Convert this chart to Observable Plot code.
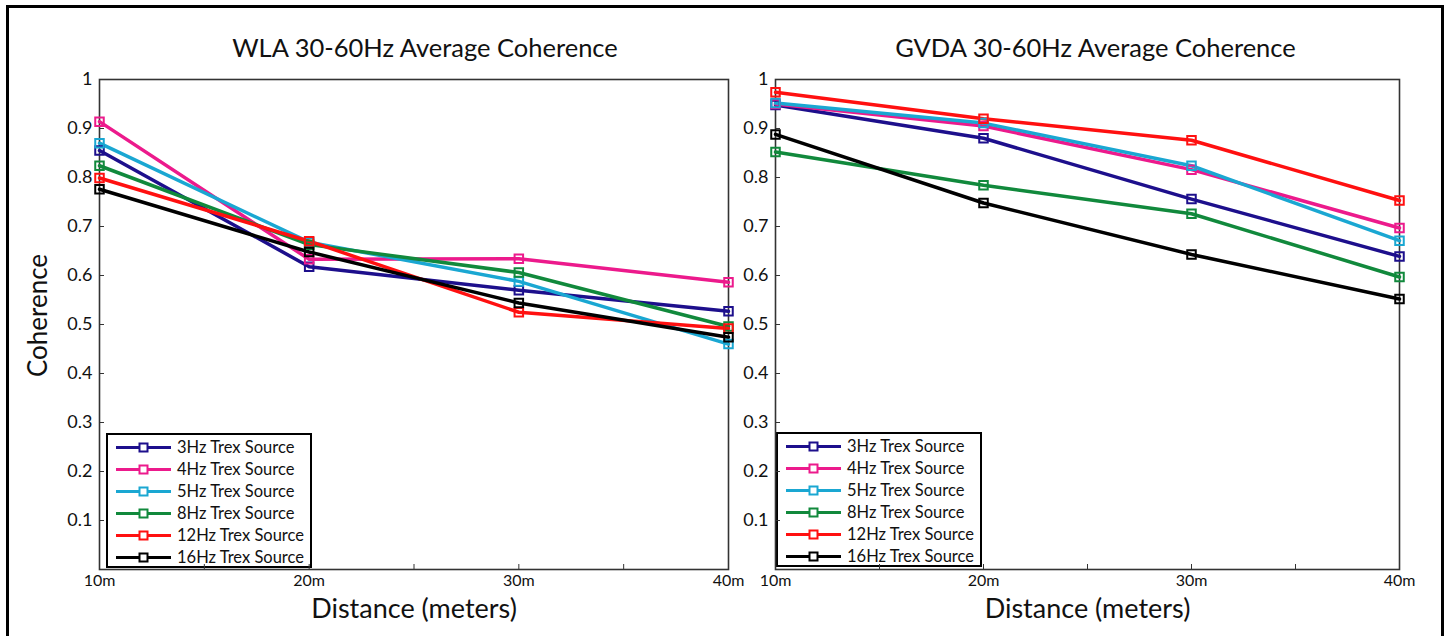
<!DOCTYPE html>
<html><head><meta charset="utf-8">
<script src="https://cdn.jsdelivr.net/npm/d3@7"></script>
<script src="https://cdn.jsdelivr.net/npm/@observablehq/plot@0.6"></script>
<style>
html,body{margin:0;padding:0;background:#fff;overflow:hidden}
#wrap{position:relative;width:1448px;height:636px;font-family:Lato,"Open Sans",sans-serif;overflow:hidden}
#border{position:absolute;left:6px;top:5px;width:1438px;height:700px;border:3px solid #000;box-sizing:border-box}
.panel{position:absolute;top:0}
.legend{position:absolute;background:#fff;border:2px solid #000;box-sizing:border-box}
</style></head>
<body><div id="wrap"><div id="border"></div></div>
<script>
const distances = [10, 20, 30, 40];
const xTickLabels = ["10m", "20m", "30m", "40m"];
const minorTicks = [10, 15, 20, 25, 30, 35, 40];
const yTicks = [0.1, 0.2, 0.3, 0.4, 0.5, 0.6, 0.7, 0.8, 0.9, 1];
const yTickLabels = ["0.1", "0.2", "0.3", "0.4", "0.5", "0.6", "0.7", "0.8", "0.9", "1"];
const sources = ["3Hz Trex Source", "4Hz Trex Source", "5Hz Trex Source", "8Hz Trex Source", "12Hz Trex Source", "16Hz Trex Source"];
const colors = ["#1d0f8c", "#ec1a8c", "#1aa7d2", "#11893c", "#ff1010", "#000000"];

const wla3  = [0.855, 0.618, 0.570, 0.527];
const wla4  = [0.914, 0.633, 0.634, 0.586];
const wla5  = [0.870, 0.668, 0.588, 0.460];
const wla8  = [0.824, 0.663, 0.606, 0.496];
const wla12 = [0.799, 0.670, 0.525, 0.492];
const wla16 = [0.776, 0.648, 0.544, 0.474];

const gvda3  = [0.948, 0.880, 0.756, 0.639];
const gvda4  = [0.950, 0.905, 0.816, 0.697];
const gvda5  = [0.952, 0.911, 0.824, 0.671];
const gvda8  = [0.852, 0.784, 0.726, 0.597];
const gvda12 = [0.974, 0.920, 0.876, 0.753];
const gvda16 = [0.888, 0.748, 0.643, 0.552];

const wlaValues = [wla3, wla4, wla5, wla8, wla12, wla16];
const gvdaValues = [gvda3, gvda4, gvda5, gvda8, gvda12, gvda16];

function table(vals) {
  return sources.flatMap((s, i) => distances.map((d, j) => ({source: s, distance: d, value: vals[i][j]})));
}

const H = 636, MT = 79, MB = 67;
const FONT = "Lato, 'Open Sans', sans-serif";

function panel({title, values, left, width, marginLeft, marginRight, yLabel, titleDx}) {
  const data = table(values);
  const innerW = width - marginLeft - marginRight;
  const innerH = H - MT - MB;
  const marks = [
    Plot.tickX(minorTicks, {x: d => d, insetTop: innerH - 5, stroke: "#333", strokeWidth: 1}),
    Plot.tickY(yTicks, {y: d => d, insetRight: innerW - 5, stroke: "#333", strokeWidth: 1}),
    Plot.axisX(distances, {tickSize: 0, tickPadding: 5, tickFormat: d => xTickLabels[distances.indexOf(d)], fontSize: 16, label: null, fill: "#111"}),
    Plot.axisY(yTicks, {tickSize: 0, tickPadding: 7, tickFormat: d => yTickLabels[yTicks.indexOf(d)], fontSize: 18, label: null, fill: "#111"}),
    Plot.frame({stroke: "#333", strokeWidth: 1.6}),
    Plot.line(data, {x: "distance", y: "value", z: "source", stroke: "source", strokeWidth: 3.5}),
    Plot.dot(data, {x: "distance", y: "value", stroke: "source", symbol: "square", r: 4.8, strokeWidth: 2, fill: "none"}),
    Plot.text([title], {text: d => d, frameAnchor: "top", dy: -41, dx: titleDx, fontSize: 25.5, fill: "#111"}),
    Plot.text(["Distance (meters)"], {text: d => d, frameAnchor: "bottom", lineAnchor: "middle", dy: 40, fontSize: 27, fill: "#111"})
  ];
  if (yLabel) marks.push(Plot.text([yLabel], {text: d => d, frameAnchor: "left", textAnchor: "middle", dx: -61, dy: -9, rotate: -90, fontSize: 26, fill: "#111"}));
  const svg = Plot.plot({
    width, height: H, marginLeft, marginRight, marginTop: MT, marginBottom: MB,
    style: {fontFamily: FONT, background: "transparent", overflow: "visible"},
    x: {domain: [10, 40], axis: null},
    y: {domain: [0, 1], axis: null},
    color: {domain: sources, range: colors},
    marks
  });
  svg.classList.add("panel");
  svg.style.left = left + "px";
  return svg;
}

function legend(left, top) {
  const div = document.createElement("div");
  div.className = "legend";
  div.style.left = left + "px";
  div.style.top = top + "px";
  div.style.width = "206px";
  div.style.height = "135px";
  const svg = d3.create("svg").attr("width", 202).attr("height", 131).style("position", "absolute").style("left", "0").style("top", "0");
  sources.forEach((s, i) => {
    const y = 12.5 + i * 22;
    const g = svg.append("g").attr("transform", `translate(0,${y})`);
    g.append("line").attr("x1", 8).attr("x2", 63).attr("y1", 0).attr("y2", 0).attr("stroke", colors[i]).attr("stroke-width", 3);
    g.append("rect").attr("x", 31.5).attr("y", -4).attr("width", 8).attr("height", 8).attr("fill", "#fff").attr("stroke", colors[i]).attr("stroke-width", 2);
    g.append("text").attr("x", 69).attr("y", 0).attr("dy", "0.36em").attr("font-size", 16.5).attr("font-family", FONT).attr("fill", "#111").text(s);
  });
  div.appendChild(svg.node());
  return div;
}

const wrap = document.getElementById("wrap");
wrap.appendChild(legend(106, 433));
wrap.appendChild(legend(776, 432));
wrap.appendChild(panel({title: "WLA 30-60Hz Average Coherence", values: wlaValues, left: 0, width: 745, marginLeft: 99, marginRight: 17, yLabel: "Coherence", titleDx: 11}));
wrap.appendChild(panel({title: "GVDA 30-60Hz Average Coherence", values: gvdaValues, left: 745, width: 703, marginLeft: 30, marginRight: 49, yLabel: null, titleDx: 8}));
</script>
</body></html>
